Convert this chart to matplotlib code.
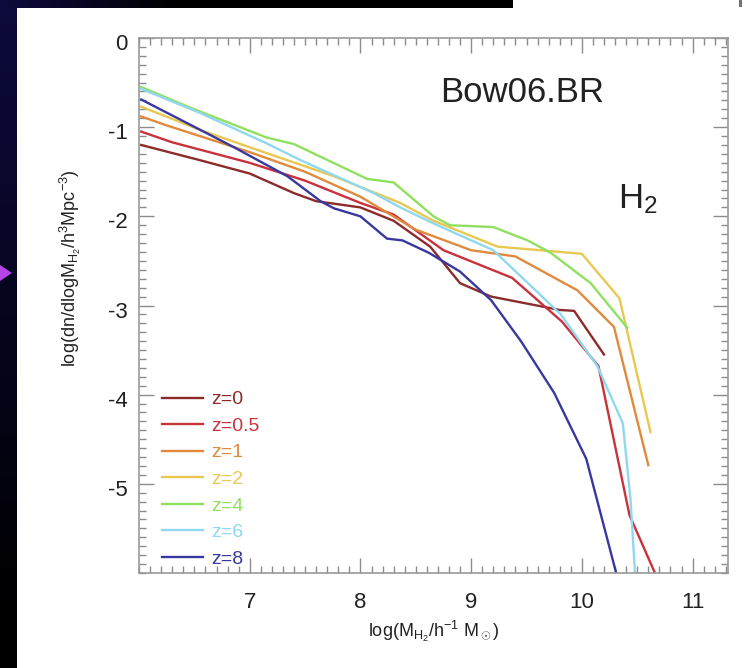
import numpy as np
import matplotlib
matplotlib.use("Agg")
import matplotlib.pyplot as plt
from matplotlib.patches import Polygon
from matplotlib.ticker import MultipleLocator
from matplotlib.transforms import ScaledTranslation

plt.rcParams['font.family'] = ['Liberation Sans', 'DejaVu Sans']
plt.rcParams['mathtext.fontset'] = 'custom'
plt.rcParams['mathtext.rm'] = 'Liberation Sans'
plt.rcParams['mathtext.it'] = 'Liberation Sans'
plt.rcParams['mathtext.bf'] = 'Liberation Sans:bold'
plt.rcParams['axes.unicode_minus'] = False

# --- data (log M_H2, log dn/dlogM) ---
labels = ['z=0', 'z=0.5', 'z=1', 'z=2', 'z=4', 'z=6', 'z=8']
colors = ['#8c2b2b', '#c8323c', '#e08a3c', '#e8c850', '#90e060', '#90d8f0', '#3838a0']

x_z0 = [6.02, 6.55, 7.0, 7.4, 7.6, 8.0, 8.3, 8.63, 8.9, 9.18, 9.8, 9.93, 10.2]
y_z0 = [-1.2, -1.37, -1.52, -1.74, -1.83, -1.9, -2.05, -2.34, -2.75, -2.9, -3.05, -3.06, -3.55]

x_z05 = [6.02, 6.3, 7.0, 7.5, 8.0, 8.3, 8.75, 9.37, 9.82, 10.15, 10.43, 10.66]
y_z05 = [-1.05, -1.17, -1.4, -1.6, -1.85, -1.98, -2.38, -2.69, -3.18, -3.68, -5.35, -6.0]

x_z1 = [6.02, 6.25, 7.0, 7.5, 8.0, 8.5, 9.0, 9.4, 9.96, 10.29, 10.6]
y_z1 = [-0.88, -0.98, -1.28, -1.5, -1.78, -2.15, -2.38, -2.45, -2.83, -3.24, -4.79]

x_z2 = [6.02, 6.55, 7.15, 7.76, 8.36, 8.66, 9.24, 10.0, 10.34, 10.62]
y_z2 = [-0.77, -1.03, -1.29, -1.55, -1.85, -2.05, -2.34, -2.42, -2.92, -4.42]

x_z4 = [6.02, 6.46, 7.15, 7.4, 8.06, 8.3, 8.66, 8.81, 9.2, 9.51, 9.72, 10.08, 10.41]
y_z4 = [-0.55, -0.78, -1.115, -1.19, -1.58, -1.62, -2.0, -2.1, -2.12, -2.27, -2.41, -2.75, -3.25]

x_z6 = [6.02, 6.55, 7.15, 7.46, 8.12, 8.36, 8.66, 9.2, 9.81, 10.14, 10.37, 10.44, 10.48]
y_z6 = [-0.57, -0.84, -1.18, -1.37, -1.74, -1.9, -2.08, -2.38, -3.1, -3.68, -4.32, -5.18, -6.0]

x_z8 = [6.02, 6.85, 7.34, 7.64, 7.76, 8.0, 8.24, 8.38, 8.62, 8.9, 9.18, 9.45, 9.75, 10.04, 10.31]
y_z8 = [-0.69, -1.22, -1.55, -1.83, -1.91, -2.0, -2.25, -2.27, -2.41, -2.62, -2.94, -3.4, -3.98, -4.72, -6.0]

xs = [x_z0, x_z05, x_z1, x_z2, x_z4, x_z6, x_z8]
ys = [y_z0, y_z05, y_z1, y_z2, y_z4, y_z6, y_z8]

W, H = 751, 668
fig = plt.figure(figsize=(W / 100, H / 100), dpi=100)

# slide background: dark navy strip on the left and top, white panel
bg = np.ones((H, W, 3))
navy = np.array([0.05, 0.04, 0.24])
rows = np.clip(1 - np.arange(H) / 620.0, 0, 1)[:, None]
bg[:, :17, :] = (rows * navy)[:, None, :]
cols = np.clip(1 - np.arange(513) / 180.0, 0, 1)[:, None]
bg[:8, :513, :] = (cols * navy)[None, :, :]
bg[0:7, 739:742, :] = 0.45

ax_bg = fig.add_axes([0, 0, 1, 1], zorder=-10)
ax_bg.imshow(bg, extent=(0, W, H, 0), aspect='auto', interpolation='bilinear')
ax_bg.add_patch(Polygon([(0, 265), (12, 273), (0, 281)], closed=True,
                        facecolor='#b444e6', edgecolor='none'))
ax_bg.set_xlim(0, W)
ax_bg.set_ylim(H, 0)
ax_bg.axis('off')

ax = fig.add_axes([139 / W, 1 - 573 / H, 589 / W, 535 / H])

for x, y, c, lab in zip(xs, ys, colors, labels):
    ax.plot(x, y, color=c, linewidth=1.7, label=lab)

ax.set_xlim(6.0, 11.32)
ax.set_ylim(-6.0, 0.0)
ax.set_xticks([7, 8, 9, 10, 11])
ax.set_yticks([-5, -4, -3, -2, -1, 0])
ax.xaxis.set_minor_locator(MultipleLocator(0.1))
ax.yaxis.set_minor_locator(MultipleLocator(0.1))

ax.tick_params(which='both', direction='in', top=True, right=True,
               color='#8c8c8c', width=1.0, labelcolor='#222222', labelsize=16)
ax.tick_params(which='major', length=10.5)
ax.tick_params(which='minor', length=5)
ax.tick_params(axis='x', pad=14)
ax.tick_params(axis='y', pad=8)
for sp in ax.spines.values():
    sp.set_color('#9a9a9a')
    sp.set_linewidth(1.2)

# IDL-style labels sit a little below their ticks
shift = ScaledTranslation(0, -4 / 100, fig.dpi_scale_trans)
for lbl in ax.get_yticklabels():
    lbl.set_transform(lbl.get_transform() + shift)

ax.set_xlabel(r'log(M$_{\rm H_2}$/h$^{-1}$ M$_\odot$)', fontsize=13, color='#222222')
ax.xaxis.set_label_coords(0.5, -0.110)
ax.xaxis.label.set_va('center')
ax.set_ylabel(r'log(dn/dlogM$_{\rm H_2}$/h$^3$Mpc$^{-3}$)', fontsize=13, color='#222222')
ax.yaxis.set_label_coords(-0.116, 0.57)
ax.yaxis.label.set_va('center')

ax.text(0.65, 0.880, 'Bow06.BR', transform=ax.transAxes, fontsize=25,
        ha='center', va='baseline', color='#222222')
ax.text(0.813, 0.682, r'H$_\mathregular{2}$', transform=ax.transAxes, fontsize=25,
        ha='left', va='baseline', color='#222222')

leg = ax.legend(loc='lower left', bbox_to_anchor=(0.039, 0.010), frameon=False,
                fontsize=14, handlelength=2.1, handletextpad=0.42,
                labelspacing=0.46, borderpad=0, borderaxespad=0,
                labelcolor='linecolor')

fig.savefig('out.png', dpi=100)
